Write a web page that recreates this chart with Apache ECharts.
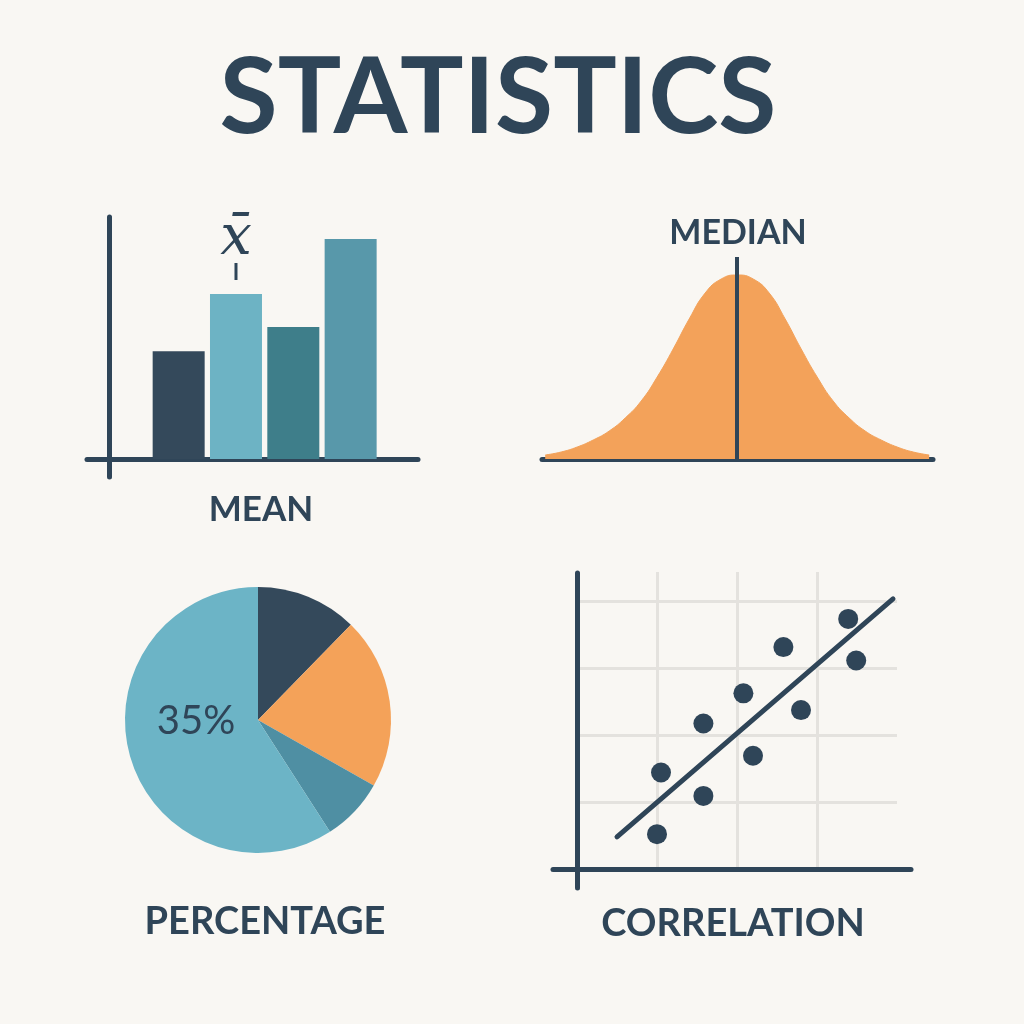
<!DOCTYPE html>
<html>
<head>
<meta charset="utf-8">
<style>
  html, body { margin: 0; padding: 0; background: #f9f7f3; }
  #chart { width: 1024px; height: 1024px; }
</style>
<script src="https://cdn.jsdelivr.net/npm/echarts@6/dist/echarts.min.js"></script>
</head>
<body>
<div id="chart"></div>
<script>
// ---------- data ----------
const titleText = 'STATISTICS';
const panelLabels = ['MEAN', 'MEDIAN', 'PERCENTAGE', 'CORRELATION'];
const meanSymbol = 'x\u0304';

const barCategories = ['A', 'B', 'C', 'D'];
const barValues = [49, 75, 60, 100];
const barColors = ['#34495b', '#6db3c4', '#3e7e8a', '#5898aa'];
const meanBarIndex = 1;

const bellX = [-3, -2.75, -2.5, -2.25, -2, -1.75, -1.5, -1.25, -1, -0.75, -0.5, -0.25, 0,
               0.25, 0.5, 0.75, 1, 1.25, 1.5, 1.75, 2, 2.25, 2.5, 2.75, 3];
const bellY = [4, 7, 12, 19, 28, 41, 58, 82, 110, 140, 166, 180, 184,
               180, 166, 140, 110, 82, 58, 41, 28, 19, 12, 7, 4];
const medianX = 0;

const pieNames = ['Dark', 'Orange', 'Teal', 'Light'];
const pieValues = [12.3, 20.9, 7.7, 59.1];
const pieColors = ['#34495b', '#f4a259', '#4f8fa3', '#6cb4c6'];
const pieLabel = '35%';

const scatterX = [1.0, 1.05, 1.58, 1.58, 2.2, 2.08, 2.8, 2.58, 3.49, 3.39];
const scatterY = [0.52, 1.44, 1.09, 2.17, 1.69, 2.62, 2.37, 3.31, 3.11, 3.73];
const trendX = [0.5, 3.95];
const trendY = [0.48, 4.03];

// ---------- style ----------
const NAVY = '#2f4558';
const ORANGE = '#f3a25a';
const GRIDGRAY = '#e4e2de';

const chart = echarts.init(document.getElementById('chart'), null, { renderer: 'canvas' });

function decorX(gridIndex, offset) {
  return {
    gridIndex, type: 'value', min: 0, max: 1, offset,
    axisLine: { show: true, onZero: false, lineStyle: { color: NAVY, width: 5, cap: 'round' } },
    axisTick: { show: false }, axisLabel: { show: false }, splitLine: { show: false }
  };
}
function decorY(gridIndex, offset) {
  return {
    gridIndex, type: 'value', min: 0, max: 1, offset,
    axisLine: { show: true, onZero: false, lineStyle: { color: NAVY, width: 5, cap: 'round' } },
    axisTick: { show: false }, axisLabel: { show: false }, splitLine: { show: false }
  };
}

const labelFont = 'Lato';
function labelText(text, x, y, size) {
  return {
    type: 'text', x, y, z: 10,
    style: { text, fill: NAVY, font: `bold ${size}px ${labelFont}`, align: 'center', verticalAlign: 'middle' }
  };
}

const option = {
  backgroundColor: '#f9f7f3',
  animation: false,
  grid: [
    { left: 87, top: 217, width: 331, height: 260 },   // 0 bar axes
    { left: 150, top: 217, width: 229.3, height: 242 }, // 1 bars
    { left: 542, top: 257, width: 391, height: 202 },  // 2 bell
    { left: 553, top: 573, width: 358, height: 315 },  // 3 scatter axes
    { left: 577, top: 572, width: 320, height: 297 }   // 4 scatter
  ],
  xAxis: [
    decorX(0, -18),
    { gridIndex: 1, type: 'category', data: barCategories, show: false },
    {
      gridIndex: 2, type: 'value', min: -3.05, max: 3.06,
      axisLine: { show: true, onZero: false, lineStyle: { color: NAVY, width: 5, cap: 'round' } },
      axisTick: { show: false }, axisLabel: { show: false }, splitLine: { show: false }
    },
    decorX(3, -19),
    {
      gridIndex: 4, type: 'value', min: 0, max: 4, interval: 1,
      axisLine: { show: false }, axisTick: { show: false }, axisLabel: { show: false },
      splitLine: { show: true, showMinLine: false, showMaxLine: false, lineStyle: { color: GRIDGRAY, width: 3 } }
    }
  ],
  yAxis: [
    decorY(0, -22),
    { gridIndex: 1, type: 'value', min: 0, max: 110, show: false },
    { gridIndex: 2, type: 'value', min: 0, max: 202, show: false },
    decorY(3, -24),
    {
      gridIndex: 4, type: 'value', min: 0, max: 4.43, interval: 1,
      axisLine: { show: false }, axisTick: { show: false }, axisLabel: { show: false },
      splitLine: { show: true, showMinLine: false, showMaxLine: false, lineStyle: { color: GRIDGRAY, width: 3 } }
    }
  ],
  series: [
    {
      type: 'bar', xAxisIndex: 1, yAxisIndex: 1, barWidth: 52, z: 1,
      data: barValues.map((v, i) => ({
        value: v,
        itemStyle: { color: barColors[i] },
        label: i === meanBarIndex ? {
          show: true, position: 'top', distance: 14,
          formatter: '{x|' + meanSymbol + '}\n{t| }',
          rich: {
            x: { fontFamily: 'DejaVu Serif', fontStyle: 'italic', fontSize: 56, color: NAVY, lineHeight: 48, align: 'center' },
            t: { width: 3, height: 17, lineHeight: 17, backgroundColor: NAVY, align: 'center' }
          }
        } : { show: false }
      }))
    },
    {
      type: 'line', xAxisIndex: 2, yAxisIndex: 2, smooth: true, symbol: 'none',
      data: bellX.map((x, i) => [x, bellY[i]]),
      lineStyle: { color: ORANGE, width: 1 },
      areaStyle: { color: ORANGE, opacity: 1 },
      markLine: {
        silent: true, symbol: 'none', label: { show: false },
        lineStyle: { color: NAVY, width: 4, type: 'solid' },
        data: [{ xAxis: medianX }]
      }
    },
    {
      type: 'pie', center: [258, 720], radius: 133, startAngle: 90, clockwise: true,
      label: { show: false }, labelLine: { show: false }, silent: true,
      data: pieValues.map((v, i) => ({ name: pieNames[i], value: v, itemStyle: { color: pieColors[i] } }))
    },
    {
      type: 'line', xAxisIndex: 4, yAxisIndex: 4, symbol: 'none',
      data: trendX.map((x, i) => [x, trendY[i]]),
      lineStyle: { color: NAVY, width: 5, cap: 'round' }, z: 3
    },
    {
      type: 'scatter', xAxisIndex: 4, yAxisIndex: 4, symbolSize: 20,
      data: scatterX.map((x, i) => [x, scatterY[i]]),
      itemStyle: { color: NAVY, opacity: 1 }, z: 4
    }
  ],
  graphic: [
    {
      type: 'text', x: 498, y: 99, z: 10,
      style: { text: titleText, fill: NAVY, font: 'bold 106px Lato', align: 'center', verticalAlign: 'middle' }
    },
    labelText(panelLabels[0], 261, 510, 35),
    labelText(panelLabels[1], 738, 233, 34),
    labelText(panelLabels[2], 265, 922, 38),
    labelText(panelLabels[3], 733, 924, 38),
    {
      type: 'text', x: 196, y: 721, z: 10,
      style: { text: pieLabel, fill: NAVY, font: '40px Lato', align: 'center', verticalAlign: 'middle' }
    }
  ]
};
chart.setOption(option);
</script>
</body>
</html>
